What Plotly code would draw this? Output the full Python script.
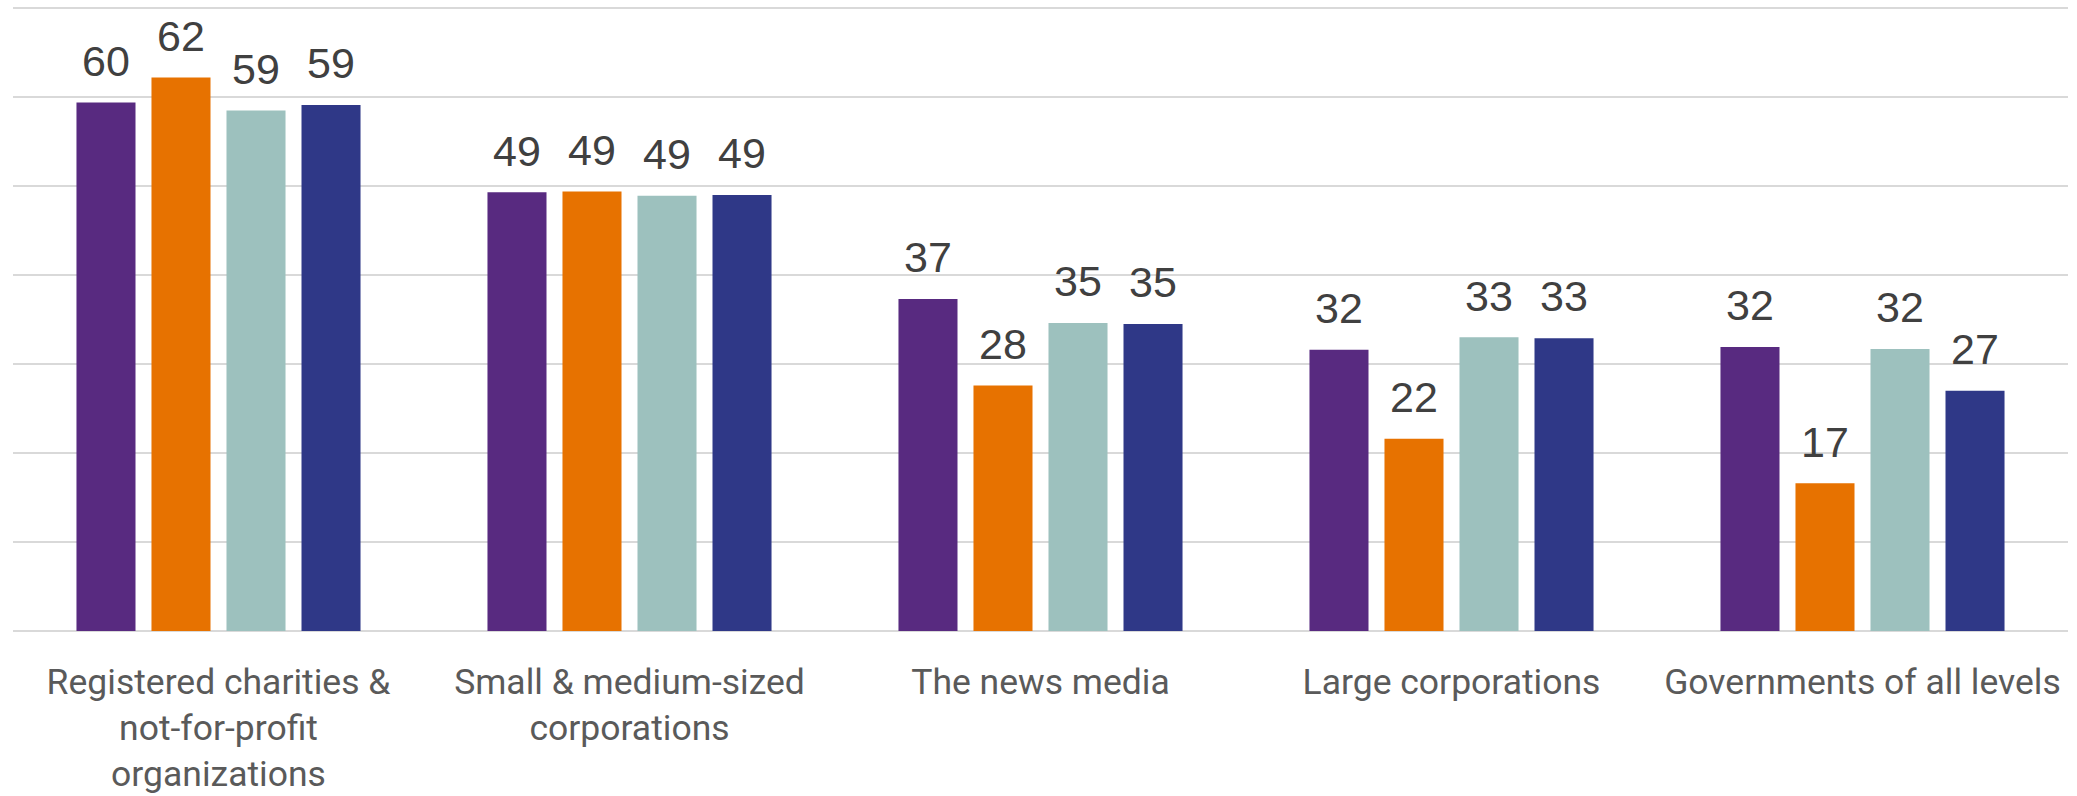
import plotly.graph_objects as go

categories = [
    "Registered charities &<br>not-for-profit<br>organizations",
    "Small & medium-sized<br>corporations",
    "The news media",
    "Large corporations",
    "Governments of all levels",
]
series_names = ["Series 1", "Series 2", "Series 3", "Series 4"]
values_s1 = [59.4, 49.3, 37.3, 31.6, 31.9]
values_s2 = [62.2, 49.4, 27.6, 21.6, 16.6]
values_s3 = [58.5, 48.9, 34.6, 33.0, 31.7]
values_s4 = [59.1, 49.0, 34.5, 32.9, 27.0]
labels_s1 = [60, 49, 37, 32, 32]
labels_s2 = [62, 49, 28, 22, 17]
labels_s3 = [59, 49, 35, 33, 32]
labels_s4 = [59, 49, 35, 33, 27]
colors = ["#582A80", "#E77200", "#9DC1BE", "#2F3887"]

values = [values_s1, values_s2, values_s3, values_s4]
labels = [labels_s1, labels_s2, labels_s3, labels_s4]

fig = go.Figure()
for name, vals, col in zip(series_names, values, colors):
    fig.add_trace(go.Bar(
        x=categories, y=vals, name=name,
        marker=dict(color=col, line=dict(width=0)),
        showlegend=False, hoverinfo="skip",
    ))
for name, vals, labs in zip(series_names, values, labels):
    fig.add_trace(go.Scatter(
        x=categories, y=vals, name=name + " labels",
        mode="markers+text", orientation="v",
        text=[str(v) for v in labs], textposition="top center",
        textfont=dict(family="Liberation Sans, Arial, sans-serif", size=43, color="#404040"),
        marker=dict(size=24, color="rgba(0,0,0,0)"),
        showlegend=False, hoverinfo="skip", cliponaxis=False,
    ))

fig.update_layout(
    width=2077, height=796,
    margin=dict(l=13, r=9, t=7, b=165, autoexpand=False),
    paper_bgcolor="white", plot_bgcolor="white",
    barmode="group", bargap=0.27, bargroupgap=0.213,
    scattermode="group",
    xaxis=dict(
        showgrid=False, showline=False, ticks="", automargin=False,
        tickfont=dict(family="Roboto, sans-serif", size=35.5, color="#5A5A5A"),
        ticklabelstandoff=26,
    ),
    yaxis=dict(
        range=[0, 70.12], tickvals=[0, 10, 20, 30, 40, 50, 60, 70], showticklabels=False,
        showgrid=True, gridcolor="#D9D9D9", gridwidth=1.5,
        zeroline=True, zerolinecolor="#D9D9D9", zerolinewidth=1.5,
        showline=False, ticks="", automargin=False,
    ),
)
fig.write_html("out.html")
